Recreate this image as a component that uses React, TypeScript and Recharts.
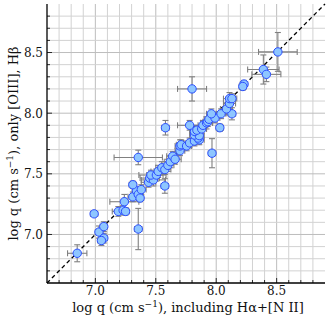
import React from 'react';
import { ScatterChart, Scatter, XAxis, YAxis, ErrorBar, ReferenceLine } from 'recharts';

// log q from the full line set (Halpha + [N II])
const qFull = [
  6.85, 6.99, 7.03, 7.07, 7.07, 7.05, 7.19, 7.23, 7.25, 7.24, 7.31, 7.34, 7.355, 7.37, 7.38,
  7.31, 7.355, 7.355, 7.44, 7.45, 7.48, 7.46, 7.505, 7.52, 7.55, 7.575, 7.575, 7.6, 7.62, 7.64,
  7.66, 7.7, 7.7, 7.71, 7.755, 7.78, 7.82, 7.86, 7.85, 7.965, 7.82, 7.86, 7.82, 7.84, 7.88,
  7.89, 7.78, 7.58, 8.03, 7.92, 7.93, 7.94, 7.99, 7.96, 8.04, 8.13, 8.085, 8.11, 8.11, 8.13,
  7.8, 8.23, 8.22, 8.39, 8.415, 8.51,
];
// log q from [OIII], Hbeta only
const qO3 = [
  6.845, 7.17, 7.02, 7.065, 6.97, 6.95, 7.19, 7.2, 7.19, 7.27, 7.31, 7.36, 7.33, 7.3, 7.37,
  7.41, 7.045, 7.635, 7.43, 7.465, 7.45, 7.49, 7.49, 7.52, 7.55, 7.4, 7.535, 7.57, 7.6, 7.645,
  7.62, 7.69, 7.73, 7.74, 7.73, 7.755, 7.77, 7.78, 7.795, 7.67, 7.82, 7.815, 7.85, 7.86, 7.87,
  7.9, 7.9, 7.88, 7.88, 7.92, 7.93, 7.95, 7.96, 7.995, 7.995, 7.995, 8.035, 8.08, 8.12, 8.12,
  8.2, 8.24, 8.22, 8.36, 8.32, 8.505,
];
const errFull = [
  0.08, 0.03, 0.03, 0.03, 0.03, 0.03, 0.05, 0.04, 0.03, 0.12, 0.04, 0.03, 0.04, 0.03, 0.04,
  0.03, 0.03, 0.2, 0.06, 0.08, 0.1, 0.1, 0.08, 0.06, 0.05, 0.03, 0.05, 0.05, 0.05, 0.05,
  0.05, 0.04, 0.04, 0.04, 0.04, 0.05, 0.04, 0.04, 0.03, 0.03, 0.04, 0.04, 0.04, 0.04, 0.04,
  0.04, 0.1, 0.03, 0.03, 0.05, 0.04, 0.04, 0.04, 0.04, 0.04, 0.03, 0.05, 0.05, 0.05, 0.04,
  0.12, 0.03, 0.03, 0.13, 0.12, 0.16,
];
const errO3 = [
  0.07, 0.02, 0.05, 0.04, 0.04, 0.04, 0.04, 0.04, 0.03, 0.06, 0.04, 0.03, 0.04, 0.03, 0.04,
  0.03, 0.17, 0.06, 0.04, 0.04, 0.05, 0.04, 0.05, 0.05, 0.05, 0.06, 0.04, 0.05, 0.05, 0.04,
  0.04, 0.04, 0.05, 0.04, 0.04, 0.04, 0.04, 0.04, 0.03, 0.12, 0.05, 0.04, 0.04, 0.04, 0.04,
  0.04, 0.04, 0.06, 0.03, 0.05, 0.04, 0.04, 0.04, 0.04, 0.04, 0.05, 0.05, 0.05, 0.05, 0.04,
  0.1, 0.03, 0.03, 0.12, 0.06, 0.16,
];

const tickLabels = ['7.0', '7.5', '8.0', '8.5'];
const domain: [number, number] = [6.6, 8.9];

const gridTicks: number[] = [];
for (let i = 67; i <= 88; i++) gridTicks.push(i / 10);

const data = qFull.map((x, i) => ({ x, y: qO3[i], xe: errFull[i], ye: errO3[i] }));

const FONT = '"DejaVu Serif", serif';
const labelFor = (v: number) => tickLabels.find((l) => Math.abs(Number(l) - v) < 1e-6);

const BottomTick = ({ x, y, payload }: any) => {
  const lab = labelFor(payload.value);
  const len = lab ? 5 : 3;
  return (
    <g>
      <line x1={x} x2={x} y1={y} y2={y - len} stroke="#000" strokeWidth={0.8} />
      {lab && (
        <text x={x} y={y + 12} textAnchor="middle" fontSize={12} fontFamily={FONT} fill="#111">
          {lab}
        </text>
      )}
    </g>
  );
};

const TopTick = ({ x, y, payload }: any) => {
  const len = labelFor(payload.value) ? 5 : 3;
  return <line x1={x} x2={x} y1={y} y2={y + len} stroke="#000" strokeWidth={0.8} />;
};

const LeftTick = ({ x, y, payload }: any) => {
  const lab = labelFor(payload.value);
  const len = lab ? 5 : 3;
  return (
    <g>
      <line x1={x} x2={x + len} y1={y} y2={y} stroke="#000" strokeWidth={0.8} />
      {lab && (
        <text x={x - 4} y={y + 4.5} textAnchor="end" fontSize={12} fontFamily={FONT} fill="#111">
          {lab}
        </text>
      )}
    </g>
  );
};

const RightTick = ({ x, y, payload }: any) => {
  const len = labelFor(payload.value) ? 5 : 3;
  return <line x1={x} x2={x - len} y1={y} y2={y} stroke="#000" strokeWidth={0.8} />;
};

const Dot = (props: any) => (
  <circle cx={props.cx} cy={props.cy} r={4.2} fill="#8ec6ff" stroke="#2b4dff" strokeWidth={1} />
);

export default function App() {
  return (
    <div style={{ position: 'absolute', left: 0, top: 0, width: 332, height: 323, background: '#fff' }}>
      <ScatterChart width={332} height={323} margin={{ top: 4, right: 7, left: 0, bottom: 0 }}>
        <XAxis
          dataKey="x"
          type="number"
          domain={domain}
          ticks={gridTicks}
          interval={0}
          tickSize={0}
          tickMargin={0}
          tick={BottomTick}
          height={40}
          allowDataOverflow
          axisLine={{ stroke: '#000', strokeWidth: 1.3 }}
        />
        <XAxis
          xAxisId="top"
          orientation="top"
          type="number"
          domain={domain}
          ticks={gridTicks}
          interval={0}
          tickSize={0}
          tickMargin={0}
          tick={TopTick}
          height={0}
          allowDataOverflow
          axisLine={{ stroke: '#000', strokeWidth: 1.3 }}
        />
        <YAxis
          dataKey="y"
          type="number"
          domain={domain}
          ticks={gridTicks}
          interval={0}
          tickSize={0}
          tickMargin={0}
          tick={LeftTick}
          width={47}
          allowDataOverflow
          axisLine={{ stroke: '#000', strokeWidth: 1.3 }}
        />
        <YAxis
          yAxisId="right"
          orientation="right"
          type="number"
          domain={domain}
          ticks={gridTicks}
          interval={0}
          tickSize={0}
          tickMargin={0}
          tick={RightTick}
          width={0}
          allowDataOverflow
          axisLine={{ stroke: '#000', strokeWidth: 1.3 }}
        />
        {gridTicks.map((v) => (
          <ReferenceLine key={'gx' + v} x={v} stroke={labelFor(v) ? '#bdbdbd' : '#d2d2d2'} strokeWidth={1} />
        ))}
        {gridTicks.map((v) => (
          <ReferenceLine key={'gy' + v} y={v} stroke={labelFor(v) ? '#bdbdbd' : '#d2d2d2'} strokeWidth={1} />
        ))}
        <ReferenceLine
          segment={[
            { x: domain[0], y: domain[0] },
            { x: domain[1], y: domain[1] },
          ]}
          stroke="#000"
          strokeWidth={1.3}
          strokeDasharray="4 3"
        />
        <Scatter data={data} shape={Dot} isAnimationActive={false}>
          <ErrorBar dataKey="xe" direction="x" width={3} stroke="#808080" strokeWidth={1.1} />
          <ErrorBar dataKey="ye" direction="y" width={3} stroke="#808080" strokeWidth={1.1} />
        </Scatter>
      </ScatterChart>
      <svg
        width={332}
        height={323}
        style={{ position: 'absolute', left: 0, top: 0, pointerEvents: 'none' }}
        fontFamily={FONT}
        fontSize={13}
        fill="#111"
      >
        <text x={188} y={312} textAnchor="middle">
          log q (cm s
          <tspan dy={-5} fontSize={9}>−1</tspan>
          <tspan dy={5}>), including Hα+[N II]</tspan>
        </text>
        <text x={18} y={143.5} textAnchor="middle" transform="rotate(-90 18 143.5)">
          log q (cm s
          <tspan dy={-5} fontSize={9}>−1</tspan>
          <tspan dy={5}>), only [OIII], Hβ</tspan>
        </text>
      </svg>
    </div>
  );
}
